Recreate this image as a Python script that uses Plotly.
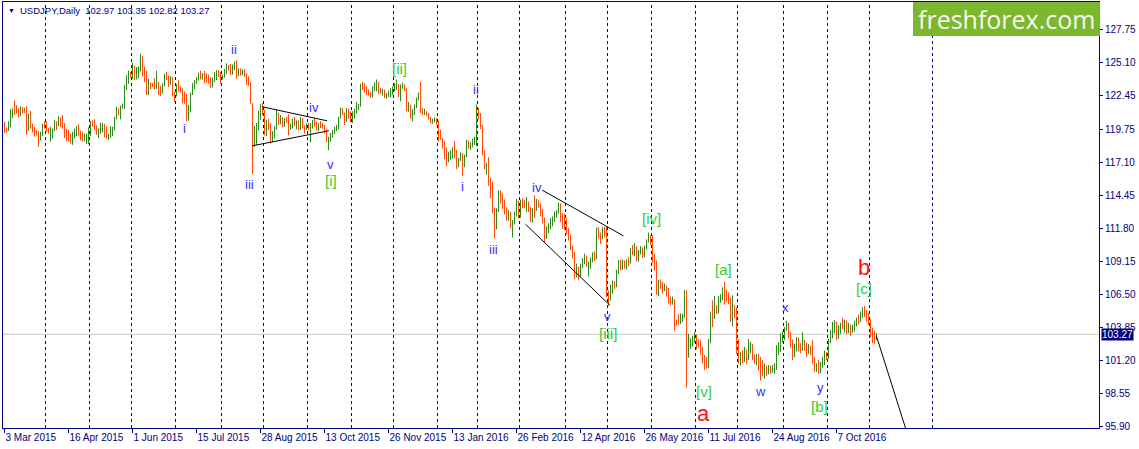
import plotly.graph_objects as go

# USDJPY daily bars, 3 Mar 2015 .. 4 Nov 2016 (one line per month)
opens = [
    120.05, 119.72, 119.65, 120.10, 120.82, 121.15, 121.30, 121.20, 120.85, 121.40, 121.20, 121.45, 119.80, 120.70, 119.95, 119.70, 119.50, 119.30, 118.90, 119.25, 120.35,
    120.10, 119.65, 119.20, 119.30, 119.65, 120.30, 120.10, 120.65, 120.40, 120.15, 119.25, 119.05, 118.95, 118.85, 119.40, 119.70, 119.95, 119.40, 119.00, 118.85, 118.90, 119.00,
    119.40, 120.30, 120.25, 119.80, 119.45, 119.75, 119.80, 120.10, 119.75, 119.05, 119.25, 119.40, 119.90, 120.60, 121.30, 121.00, 121.55, 121.60, 123.10, 123.60, 124.10,
    124.05, 124.80, 124.30, 124.40, 124.60, 125.60, 124.50, 124.40, 122.55, 123.45, 123.40, 123.35, 123.05, 123.40, 122.75, 122.70, 123.30, 123.95, 123.80, 123.75, 123.90, 122.55,
    122.50, 123.20, 123.10, 122.85, 122.60, 122.15, 121.00, 121.25, 122.55, 123.25, 123.55, 123.75, 124.05, 123.95, 124.20, 123.90, 123.85, 123.75, 123.25, 123.65, 124.10, 124.15, 124.00,
    123.90, 124.00, 124.40, 124.80, 124.70, 124.20, 124.60, 125.05, 124.40, 124.45, 124.30, 124.40, 124.10, 123.80, 123.40, 121.80, 118.40, 118.90, 119.95, 120.95, 121.70,
    121.20, 119.80, 120.30, 120.05, 119.00, 119.30, 119.80, 120.95, 120.55, 120.60, 120.15, 120.50, 120.45, 119.95, 120.00, 120.50, 120.15, 120.30, 119.85, 120.55, 119.90, 119.85,
    119.90, 119.85, 119.90, 120.40, 120.20, 119.85, 120.20, 120.15, 119.95, 119.70, 118.85, 118.90, 119.40, 119.50, 119.85, 119.90, 120.70, 121.40, 121.05, 120.45, 121.10, 121.05,
    120.60, 120.70, 121.15, 121.55, 121.70, 123.20, 123.15, 123.10, 122.90, 122.60, 122.55, 123.10, 123.40, 123.45, 122.90, 122.80, 122.85, 122.50, 122.55, 122.60, 122.80,
    123.10, 123.15, 123.20, 122.60, 123.20, 123.30, 122.95, 121.55, 121.60, 120.90, 120.95, 121.60, 122.20, 122.60, 121.25, 121.10, 121.15, 120.90, 120.60, 120.35, 120.45, 120.50,
    120.20, 119.40, 119.00, 118.55, 117.65, 117.25, 117.70, 117.75, 118.10, 118.00, 117.05, 117.30, 117.70, 116.90, 117.60, 118.75, 118.35, 118.45, 118.65, 118.75,
    121.10, 121.00, 120.00, 117.95, 116.80, 116.85, 115.65, 115.00, 113.30, 112.40, 113.20, 114.60, 114.10, 114.00, 113.20, 112.60, 112.80, 112.10, 112.30, 112.90, 113.95,
    112.70, 113.95, 113.90, 113.70, 113.80, 113.40, 112.50, 113.30, 113.25, 113.80, 113.75, 113.15, 112.50, 111.00, 111.55, 111.95, 112.40, 112.45, 113.00, 113.05, 113.50, 112.90, 112.60,
    112.45, 111.65, 111.05, 110.25, 109.75, 108.10, 108.60, 108.00, 108.75, 109.25, 109.40, 108.80, 108.95, 109.25, 109.75, 109.45, 111.75, 111.20, 111.15, 111.60, 111.45,
    106.50, 106.10, 107.00, 107.30, 107.15, 108.35, 109.10, 108.55, 109.05, 108.65, 109.10, 109.05, 110.05, 109.90, 110.15, 109.25, 109.95, 110.20, 109.70, 110.25, 110.75, 111.10,
    110.70, 109.55, 108.95, 106.55, 107.55, 107.35, 106.85, 107.05, 106.95, 106.10, 105.95, 106.00, 104.20, 104.40, 104.15, 104.50, 104.75, 106.10, 102.20, 102.45, 102.60, 102.75,
    103.20, 102.50, 102.45, 101.90, 101.30, 100.85, 100.60, 102.75, 104.70, 104.60, 105.30, 105.00, 106.15, 106.20, 106.90, 106.15, 106.10, 106.05, 104.85, 105.30, 105.20,
    102.05, 101.20, 101.55, 101.20, 101.85, 101.30, 102.00, 102.45, 101.35, 101.15, 101.30, 100.60, 100.25, 100.15, 100.55, 100.20, 100.70, 100.25, 100.50, 100.75, 101.85, 102.00, 102.90,
    103.10, 103.70, 104.00, 103.35, 102.40, 101.55, 102.15, 102.85, 102.30, 102.05, 102.70, 102.40, 102.00, 102.30, 101.90, 101.10, 100.35, 100.75, 100.40, 100.90, 101.25, 101.70,
    101.35, 102.70, 103.45, 103.85, 104.20, 103.00, 103.65, 104.05, 103.90, 104.20, 103.75, 103.90, 103.45, 103.90, 104.15, 104.40, 104.30, 104.90, 105.20, 104.85, 104.80,
    104.45, 103.40, 103.35, 102.97,
]
highs = [
    120.35, 119.90, 120.40, 121.35, 121.45, 122.05, 121.70, 121.45, 121.60, 121.55, 121.50, 121.60, 121.00, 121.25, 120.20, 119.95, 119.70, 119.60, 119.55, 120.20, 120.40,
    120.40, 119.85, 119.95, 119.80, 120.48, 120.40, 120.80, 120.70, 120.88, 120.25, 119.80, 119.70, 119.40, 119.55, 119.80, 120.00, 120.15, 119.65, 119.55, 119.40, 119.40, 119.90,
    120.40, 120.48, 120.55, 120.05, 119.80, 120.25, 120.25, 120.20, 120.00, 119.40, 120.00, 119.95, 120.75, 121.55, 121.45, 121.65, 121.82, 123.30, 124.10, 124.45, 124.35,
    125.10, 124.85, 124.75, 124.80, 125.84, 125.65, 124.80, 124.45, 123.80, 123.50, 123.45, 123.85, 124.45, 123.55, 123.25, 123.45, 124.20, 124.35, 124.05, 124.00, 123.95, 122.75,
    123.40, 123.70, 123.20, 123.05, 122.80, 122.60, 121.70, 122.70, 123.45, 123.70, 123.95, 124.30, 124.45, 124.25, 124.45, 124.25, 124.15, 123.95, 123.90, 124.35, 124.50, 124.50, 124.35,
    124.15, 124.60, 125.05, 124.90, 125.00, 124.95, 125.20, 125.30, 124.65, 124.65, 124.55, 124.60, 124.25, 124.00, 123.55, 121.85, 120.00, 120.25, 121.25, 121.75, 121.85,
    121.30, 120.50, 120.60, 120.25, 119.60, 120.00, 121.30, 121.05, 120.90, 120.75, 120.65, 120.75, 120.95, 120.20, 120.60, 120.75, 120.45, 120.45, 120.75, 120.65, 120.05, 120.20,
    120.25, 120.25, 120.50, 120.65, 120.35, 120.25, 120.40, 120.25, 120.10, 119.75, 119.15, 119.45, 119.70, 119.95, 120.10, 120.75, 121.50, 121.45, 121.10, 121.45, 121.40, 121.20,
    121.20, 121.40, 121.95, 121.80, 123.40, 123.55, 123.45, 123.20, 122.95, 122.75, 123.20, 123.50, 123.75, 123.55, 123.05, 123.00, 122.95, 122.65, 122.85, 123.05, 123.20,
    123.45, 123.75, 123.40, 123.35, 123.50, 123.35, 123.05, 121.95, 121.75, 121.35, 121.75, 122.30, 122.70, 123.55, 121.45, 121.40, 121.20, 121.05, 120.75, 120.60, 120.70, 120.65,
    120.45, 119.70, 119.05, 118.80, 118.30, 117.95, 118.05, 118.30, 118.80, 118.10, 117.45, 117.90, 117.85, 117.70, 118.90, 118.85, 118.70, 119.00, 119.15, 121.75,
    121.45, 121.05, 120.10, 118.05, 117.05, 117.50, 115.85, 115.55, 113.45, 113.40, 114.85, 114.85, 114.60, 114.10, 113.50, 113.25, 113.10, 112.45, 113.15, 114.15, 114.00,
    114.10, 114.20, 114.05, 114.30, 113.95, 113.50, 113.40, 114.45, 114.15, 114.05, 113.80, 113.35, 112.65, 111.95, 112.20, 112.60, 112.75, 113.15, 113.25, 113.85, 113.80, 113.00, 112.95,
    112.60, 111.80, 111.30, 110.40, 109.90, 108.95, 108.70, 108.95, 109.40, 109.75, 109.60, 109.10, 109.45, 109.85, 109.95, 111.85, 111.90, 111.45, 111.90, 111.90, 111.95,
    106.80, 107.25, 107.60, 107.55, 108.45, 109.25, 109.25, 109.30, 109.20, 109.30, 109.50, 110.20, 110.45, 110.60, 110.35, 110.05, 110.35, 110.25, 110.40, 110.90, 111.45, 111.25,
    111.20, 109.75, 109.20, 107.65, 107.70, 107.50, 107.35, 107.20, 107.00, 106.30, 106.30, 106.10, 104.45, 104.90, 104.95, 104.90, 106.85, 106.80, 103.30, 102.95, 103.15, 103.45,
    103.25, 102.90, 102.80, 102.25, 101.60, 101.45, 102.90, 105.10, 106.00, 106.35, 105.60, 106.35, 106.50, 107.05, 107.50, 106.85, 106.65, 106.25, 106.40, 105.60, 105.45,
    102.90, 101.85, 102.00, 102.25, 102.05, 102.90, 102.65, 102.50, 101.65, 101.70, 101.70, 101.45, 101.20, 100.90, 100.75, 100.80, 100.75, 100.80, 100.95, 102.40, 102.65, 103.35, 103.50,
    103.85, 104.35, 104.20, 103.45, 102.85, 102.50, 103.05, 103.00, 102.55, 103.45, 102.80, 102.60, 102.50, 102.35, 102.80, 101.45, 100.95, 101.20, 101.05, 101.45, 101.95, 101.85,
    102.90, 103.60, 104.25, 104.40, 104.30, 104.00, 104.20, 104.60, 104.45, 104.40, 104.20, 104.05, 104.05, 104.35, 104.60, 104.85, 105.10, 105.45, 105.55, 105.20, 105.00,
    104.50, 103.80, 103.55, 103.35,
]
lows = [
    119.45, 119.50, 119.62, 119.90, 120.65, 120.90, 121.00, 120.70, 120.80, 121.00, 121.05, 119.30, 119.65, 119.80, 119.50, 119.15, 119.25, 118.35, 118.85, 119.20, 119.80,
    119.55, 119.40, 118.75, 119.00, 119.60, 119.70, 120.00, 119.95, 119.80, 119.05, 118.80, 118.75, 118.60, 118.50, 119.00, 119.20, 119.25, 118.85, 118.75, 118.80, 118.55, 118.55,
    119.20, 119.95, 119.65, 119.30, 119.05, 119.40, 119.50, 119.10, 119.00, 118.90, 119.05, 119.20, 119.65, 120.55, 120.85, 120.55, 121.40, 121.40, 122.90, 123.40, 123.90,
    123.80, 123.70, 123.75, 123.85, 124.40, 124.00, 123.55, 122.50, 122.50, 122.95, 123.15, 122.95, 123.00, 122.50, 122.45, 122.65, 123.20, 123.70, 123.15, 123.30, 122.40, 121.95,
    122.40, 122.80, 122.70, 121.85, 121.80, 120.40, 120.45, 121.10, 122.50, 122.95, 123.40, 123.65, 123.75, 123.75, 123.45, 123.50, 123.40, 123.05, 123.10, 123.55, 123.70, 123.95, 123.40,
    123.75, 123.90, 124.20, 124.45, 124.10, 124.15, 124.50, 123.80, 124.00, 124.05, 124.10, 123.95, 123.30, 123.25, 121.80, 116.15, 118.35, 118.50, 119.65, 120.50, 120.90,
    119.25, 119.20, 119.70, 118.60, 118.70, 119.00, 119.70, 120.10, 120.15, 119.90, 119.95, 120.25, 119.25, 119.70, 119.80, 120.00, 119.75, 119.65, 119.70, 119.80, 119.40, 119.70,
    119.65, 118.70, 119.80, 119.95, 119.65, 119.60, 119.85, 119.80, 119.40, 118.70, 118.07, 118.75, 119.10, 119.35, 119.60, 119.75, 120.60, 120.90, 120.10, 120.35, 120.60, 120.30,
    120.25, 120.60, 121.00, 121.30, 121.55, 122.90, 122.70, 122.50, 122.45, 122.25, 122.30, 122.80, 122.80, 122.60, 122.60, 122.45, 122.25, 122.20, 122.35, 122.30, 122.50,
    122.80, 122.90, 122.35, 122.00, 123.00, 122.80, 121.20, 121.15, 120.60, 120.40, 120.90, 121.45, 122.05, 121.05, 120.90, 120.90, 120.80, 120.55, 120.25, 120.20, 120.30, 120.10,
    118.75, 118.90, 118.20, 117.35, 116.75, 117.10, 117.30, 117.40, 117.45, 116.55, 116.70, 117.20, 115.98, 116.70, 117.50, 118.20, 118.10, 118.30, 118.50, 118.40,
    120.55, 119.75, 117.65, 116.55, 116.10, 115.20, 114.20, 113.00, 110.98, 111.70, 113.10, 113.80, 113.35, 112.90, 112.40, 112.40, 111.80, 111.05, 112.10, 112.75, 112.60,
    112.65, 113.40, 113.40, 113.10, 113.10, 112.30, 112.25, 112.60, 113.20, 113.45, 112.75, 112.20, 110.70, 110.95, 111.40, 111.70, 111.95, 112.30, 112.65, 112.95, 112.30, 111.75, 111.65,
    111.30, 110.80, 110.05, 109.35, 107.70, 107.85, 107.65, 107.90, 108.60, 108.90, 108.70, 107.90, 108.55, 109.05, 109.15, 109.30, 110.95, 110.55, 110.90, 111.05, 106.25,
    105.55, 106.00, 106.55, 106.90, 107.05, 108.10, 108.40, 108.45, 108.55, 108.50, 108.75, 108.95, 109.65, 109.55, 109.15, 109.10, 109.70, 109.40, 109.45, 110.10, 110.65, 110.45,
    109.00, 108.40, 106.45, 106.35, 106.90, 106.55, 106.75, 106.30, 105.75, 105.60, 105.65, 103.55, 103.95, 104.05, 104.10, 104.25, 104.60, 99.00, 101.40, 102.10, 102.30, 102.60,
    102.05, 102.20, 101.60, 100.95, 100.40, 100.50, 100.55, 102.55, 103.85, 104.50, 104.90, 104.95, 105.80, 106.00, 105.65, 105.85, 105.70, 104.25, 103.90, 104.55, 101.70,
    100.90, 100.75, 100.95, 101.05, 100.90, 101.20, 101.75, 101.20, 100.90, 100.75, 100.35, 99.55, 99.90, 99.70, 99.95, 100.05, 100.10, 100.20, 100.10, 100.40, 101.60, 101.85, 102.60,
    102.80, 103.55, 102.95, 102.20, 101.20, 101.45, 101.90, 101.90, 101.75, 101.95, 101.95, 101.45, 101.70, 101.60, 100.90, 100.25, 100.25, 100.10, 100.15, 100.60, 100.80, 101.20,
    101.30, 102.55, 102.95, 103.35, 102.80, 102.90, 103.30, 103.70, 103.40, 103.30, 103.35, 103.15, 103.40, 103.50, 103.90, 104.05, 104.25, 104.60, 104.65, 104.30, 104.05,
    103.05, 102.55, 102.50, 102.82,
]
closes = [
    119.72, 119.65, 120.10, 120.82, 121.15, 121.05, 121.20, 120.85, 121.40, 121.20, 121.15, 119.80, 120.70, 119.95, 119.70, 119.50, 119.30, 119.15, 119.25, 120.05, 120.10,
    119.65, 119.50, 119.70, 119.65, 120.20, 120.10, 120.60, 120.25, 120.15, 119.25, 119.05, 118.95, 118.85, 119.40, 119.70, 119.90, 119.40, 119.00, 118.90, 119.10, 119.20, 119.65,
    120.20, 120.10, 119.80, 119.45, 119.75, 119.80, 120.10, 119.75, 119.20, 119.25, 119.35, 119.90, 120.60, 121.30, 121.00, 121.55, 121.60, 123.10, 123.60, 124.10, 124.05,
    124.80, 124.30, 124.40, 124.60, 125.60, 124.50, 124.40, 122.55, 123.45, 123.40, 123.35, 123.05, 123.40, 122.75, 122.70, 123.30, 123.95, 123.80, 123.75, 123.90, 122.55, 122.50,
    123.20, 123.10, 122.85, 122.60, 122.15, 121.00, 121.25, 122.55, 123.25, 123.55, 123.75, 124.05, 123.95, 124.20, 123.90, 123.85, 123.75, 123.25, 123.65, 124.10, 124.15, 124.00, 123.90,
    124.00, 124.40, 124.80, 124.70, 124.20, 124.60, 125.05, 124.40, 124.45, 124.30, 124.35, 124.10, 123.80, 123.40, 122.00, 118.40, 118.90, 119.95, 120.95, 121.70, 121.20,
    119.80, 120.30, 120.05, 119.00, 119.30, 119.80, 120.95, 120.55, 120.60, 120.15, 120.50, 120.45, 119.95, 120.00, 120.50, 120.15, 120.30, 119.85, 120.55, 119.90, 119.85, 119.90,
    119.85, 119.90, 120.40, 120.20, 119.85, 120.20, 120.15, 119.95, 119.70, 118.85, 118.90, 119.40, 119.50, 119.85, 119.90, 120.70, 121.40, 121.05, 120.45, 121.10, 121.05, 120.60,
    120.70, 121.15, 121.55, 121.70, 123.20, 123.15, 123.10, 122.90, 122.60, 122.55, 123.10, 123.40, 123.45, 122.90, 122.80, 122.85, 122.50, 122.55, 122.60, 122.80, 123.10,
    123.15, 123.20, 122.60, 123.20, 123.30, 122.95, 121.55, 121.60, 120.90, 120.95, 121.60, 122.20, 122.60, 121.25, 121.10, 121.15, 120.90, 120.60, 120.35, 120.45, 120.50, 120.20,
    119.40, 119.00, 118.55, 117.65, 117.25, 117.70, 117.75, 118.10, 118.00, 117.05, 117.30, 117.70, 116.90, 117.60, 118.75, 118.35, 118.45, 118.65, 118.75, 121.10,
    121.00, 120.00, 117.95, 116.80, 116.85, 115.65, 115.00, 113.30, 112.40, 113.20, 114.60, 114.10, 114.00, 113.20, 112.60, 112.80, 112.10, 112.30, 112.90, 113.95, 112.70,
    113.95, 113.90, 113.70, 113.80, 113.40, 112.50, 113.30, 113.25, 113.80, 113.75, 113.15, 112.50, 111.00, 111.55, 111.95, 112.40, 112.45, 113.00, 113.05, 113.50, 112.90, 112.60, 112.45,
    111.65, 111.05, 110.25, 109.75, 108.10, 108.60, 108.00, 108.75, 109.25, 109.40, 108.80, 108.95, 109.25, 109.75, 109.45, 111.75, 111.20, 111.15, 111.60, 111.45, 106.50,
    106.10, 107.00, 107.30, 107.15, 108.35, 109.10, 108.55, 109.05, 108.65, 109.10, 109.05, 110.05, 109.90, 110.15, 109.25, 109.95, 110.20, 109.70, 110.25, 110.75, 111.10, 110.70,
    109.55, 108.95, 106.55, 107.55, 107.35, 106.85, 107.05, 106.95, 106.10, 105.95, 106.00, 104.20, 104.10, 104.15, 104.50, 104.75, 106.10, 102.20, 102.45, 102.60, 102.75, 103.20,
    102.50, 102.45, 101.90, 101.30, 100.85, 100.60, 102.75, 104.70, 104.60, 105.30, 105.00, 106.15, 106.20, 106.90, 106.15, 106.10, 106.05, 104.85, 105.30, 105.20, 102.05,
    101.20, 101.55, 101.20, 101.85, 101.30, 102.00, 102.45, 101.35, 101.15, 101.30, 100.60, 100.25, 100.15, 100.55, 100.20, 100.70, 100.25, 100.50, 100.75, 101.85, 102.00, 102.90, 103.10,
    103.70, 104.00, 103.35, 102.40, 101.55, 102.15, 102.85, 102.30, 102.05, 102.70, 102.40, 102.00, 102.30, 101.90, 101.10, 100.35, 100.75, 100.40, 100.90, 101.25, 101.70, 101.35,
    102.70, 103.45, 103.85, 104.20, 103.00, 103.65, 104.05, 103.90, 104.20, 103.75, 103.90, 103.45, 103.90, 104.15, 104.40, 104.30, 104.90, 105.20, 104.85, 104.80, 104.45,
    103.40, 103.35, 102.97, 103.27,
]
assert len(opens) == len(highs) == len(lows) == len(closes)

# bottom axis labels every 32 bars
tick_bars = [0, 32, 64, 96, 128, 160, 192, 224, 256, 288, 320, 352, 384, 416]
tick_dates = ["3 Mar 2015", "16 Apr 2015", "1 Jun 2015", "15 Jul 2015", "28 Aug 2015",
              "13 Oct 2015", "26 Nov 2015", "13 Jan 2016", "26 Feb 2016", "12 Apr 2016",
              "26 May 2016", "11 Jul 2016", "24 Aug 2016", "7 Oct 2016"]
price_ticks = [127.75, 125.10, 122.45, 119.75, 117.10, 114.45, 111.80, 109.15,
               106.50, 103.85, 101.20, 98.55, 95.90]
# period separators (bar positions)
separators = [20.5, 42.5, 63.5, 85.5, 108.5, 129.5, 151.5, 173.5, 194.5, 216.5, 236.5,
              257.5, 280.5, 301.5, 323.5, 345.5, 366.5, 389.5, 411.5, 432.5, 464]
last_price = 103.27

# wave marks: text, bar, price, style
wave_text = ["i", "ii", "iii", "iv", "v", "[i]", "[ii]", "i", "ii", "iii", "iv", "v", "[iii]",
             "[iv]", "[v]", "a", "[a]", "w", "x", "y", "[b]", "[c]", "b"]
wave_bar = [90, 114.5, 122.5, 154.5, 163, 163, 197.5, 229, 235.5, 244.5, 266, 301.5, 301.5,
            323.5, 349.5, 349.5, 359.5, 378, 390.5, 408, 407.5, 429.5, 429.5]
wave_price = [119.84, 126.20, 115.34, 121.53, 116.95, 115.66, 124.67, 115.18, 122.98, 110.11,
              115.10, 104.72, 103.36, 112.60, 98.69, 96.92, 108.50, 98.69, 105.45, 99.01,
              97.48, 106.97, 108.66]
wave_kind = ["minor", "minor", "minor", "minor", "minor", "inter", "inter", "minor", "minor",
             "minor", "minor", "minor", "inter", "inter", "inter", "major", "inter", "minor",
             "minor", "minor", "inter", "inter", "major"]

# trend lines: (bar0, price0, bar1, price1)
trend_lines = [
    (128.85, 121.56, 161.35, 120.43),
    (123.85, 118.42, 162.15, 119.63),
    (268.85, 114.86, 309.5, 111.18),
    (260.5, 112.12, 302.65, 105.61),
    (436, 103.11, 450.5, 95.74),
]

navy = "#000080"
label_font = "Liberation Sans, Arial, sans-serif"
wave_style = {
    "minor": dict(size=13, color="#3030ff"),
    "inter": dict(size=15, color="#33cc33"),
    "major": dict(size=22, color="#ff1010"),
}

fig = go.Figure(go.Ohlc(
    x=list(range(len(closes))),
    open=opens, high=highs, low=lows, close=closes,
    increasing=dict(line=dict(color="#2f8a1e", width=1)),
    decreasing=dict(line=dict(color="#ff4a0a", width=1)),
    tickwidth=0.3,
    hoverinfo="skip",
))

shapes = []
for s in separators:
    shapes.append(dict(type="line", xref="x", yref="paper", x0=s, x1=s, y0=0, y1=1,
                       line=dict(color=navy, width=1, dash="3px,3px"), layer="below"))
shapes.append(dict(type="line", xref="paper", yref="y", x0=0, x1=1, y0=last_price, y1=last_price,
                   line=dict(color="#c8c8c8", width=1), layer="below"))
for b0, p0, b1, p1 in trend_lines:
    shapes.append(dict(type="line", xref="x", yref="y", x0=b0, y0=p0, x1=b1, y1=p1,
                       line=dict(color="black", width=1)))
# logo box
shapes.append(dict(type="rect", xref="paper", yref="paper", x0=0.8303, x1=1.001, y0=0.920, y1=1.0,
                   fillcolor="#7cb82f", line=dict(width=0), layer="above"))

annotations = []
for t, b, p, k in zip(wave_text, wave_bar, wave_price, wave_kind):
    annotations.append(dict(x=b, y=p, xref="x", yref="y", text=t, showarrow=False,
                            xanchor="center", yanchor="middle",
                            font=dict(family=label_font, **wave_style[k])))
annotations += [
    dict(x=0.0082, y=0.979, xref="paper", yref="paper", text="▼", showarrow=False,
         xanchor="center", yanchor="middle",
         font=dict(family=label_font, size=7, color=navy)),
    dict(x=0.0137, y=0.979, xref="paper", yref="paper", xanchor="left", yanchor="middle",
         text="USDJPY,Daily  102.97 103.35 102.82 103.27", showarrow=False,
         font=dict(family=label_font, size=9.5, color=navy)),
    dict(x=0.9156, y=0.960, xref="paper", yref="paper", text="freshforex.com", showarrow=False,
         xanchor="center", yanchor="middle",
         font=dict(family="Open Sans, sans-serif", size=25, color="#f4f9ec")),
    dict(x=1.0, y=last_price, xref="paper", yref="y", xanchor="left", yanchor="middle", xshift=2,
         text="%.2f" % last_price, showarrow=False, bgcolor=navy, borderpad=0,
         font=dict(family=label_font, size=10, color="white")),
]

fig.update_layout(
    width=1139, height=449,
    margin=dict(l=3, r=40, t=2, b=21),
    paper_bgcolor="white", plot_bgcolor="white",
    showlegend=False,
    shapes=shapes,
    annotations=annotations,
    xaxis=dict(
        range=[-0.75, 547.25], tickvals=tick_bars, ticktext=tick_dates, tickangle=0,
        ticks="outside", ticklen=4, tickcolor=navy, ticklabelposition="outside right",
        tickfont=dict(family=label_font, size=10, color=navy),
        showline=True, linecolor=navy, linewidth=1, mirror=True,
        showgrid=False, zeroline=False, rangeslider=dict(visible=False),
    ),
    yaxis=dict(
        range=[95.74, 129.98], side="right", tickvals=price_ticks,
        ticktext=["%.2f" % v for v in price_ticks],
        ticks="outside", ticklen=3, tickcolor=navy,
        tickfont=dict(family=label_font, size=10, color=navy),
        showline=True, linecolor=navy, linewidth=1, mirror=True,
        showgrid=False, zeroline=False,
    ),
)

fig.write_html("out.html", config={"displayModeBar": False},
               post_script="document.body.style.margin='0';")
